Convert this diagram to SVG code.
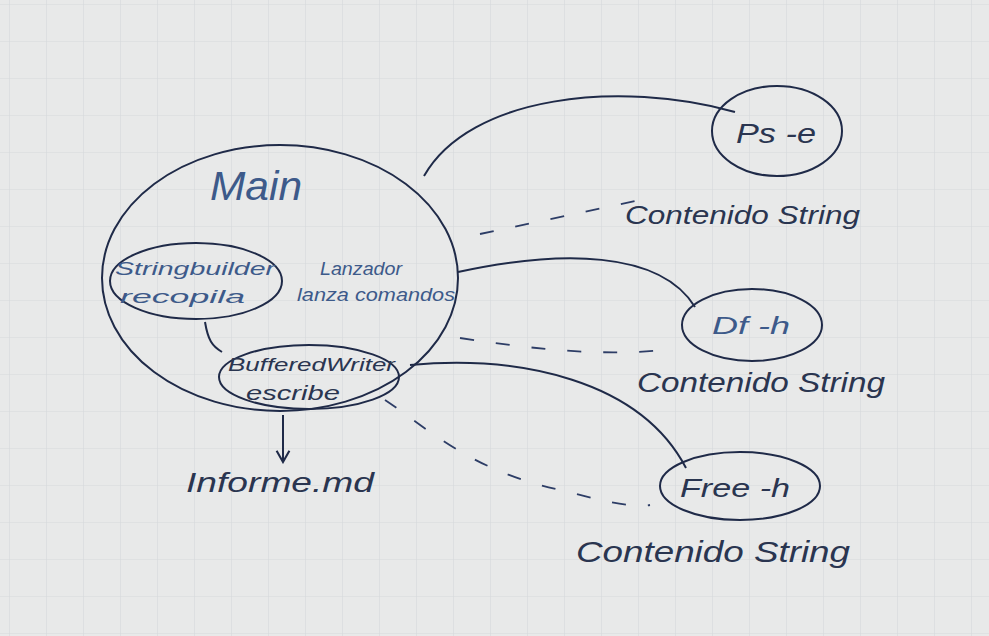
<svg xmlns="http://www.w3.org/2000/svg" width="989" height="636" viewBox="0 0 989 636">
<defs>
<pattern id="grid" width="37" height="37" patternUnits="userSpaceOnUse" x="10" y="5">
<rect width="37" height="37" fill="#e8e9e9"/>
<path d="M37 0V37M0 37H37" stroke="#d6d9dc" stroke-width="1.2" fill="none"/>
</pattern>
<marker id="arr" viewBox="0 0 10 10" refX="9" refY="5" markerWidth="16" markerHeight="16" orient="auto" markerUnits="userSpaceOnUse">
<path d="M2 1 L9 5 L2 9" fill="none" stroke="#1f2a48" stroke-width="1.3"/>
</marker>
</defs>
<style>
.ink{fill:none;stroke:#1f2a48;stroke-width:2}
.dash{fill:none;stroke:#2d3d66;stroke-width:1.8;stroke-dasharray:14 22}
.t{font-family:"Liberation Sans","DejaVu Sans",sans-serif;fill:#2a3550;font-style:italic}
.tl{font-family:"Liberation Sans","DejaVu Sans",sans-serif;fill:#3d5a8a;font-style:italic}
</style>
<rect width="989" height="636" fill="url(#grid)"/>

<g id="main">
<ellipse class="ink" cx="280" cy="278" rx="178" ry="133"/>
<text class="tl" x="210" y="200" font-size="40" textLength="92" lengthAdjust="spacingAndGlyphs">Main</text>
<text class="tl" x="320" y="275" font-size="19" textLength="82" lengthAdjust="spacingAndGlyphs">Lanzador</text>
<text class="tl" x="297" y="301" font-size="19" textLength="158" lengthAdjust="spacingAndGlyphs">lanza comandos</text>
</g>

<g id="stringbuilder">
<ellipse class="ink" cx="196" cy="281" rx="86" ry="38"/>
<text class="tl" x="115" y="275" font-size="19" textLength="160" lengthAdjust="spacingAndGlyphs">Stringbuilder</text>
<text class="tl" x="120" y="303" font-size="19" textLength="125" lengthAdjust="spacingAndGlyphs">recopila</text>
</g>

<g id="bufferedwriter">
<ellipse class="ink" cx="309" cy="377" rx="90" ry="32"/>
<text class="t" x="228" y="371" font-size="18" textLength="167" lengthAdjust="spacingAndGlyphs">BufferedWriter</text>
<text class="t" x="246" y="400" font-size="21" textLength="94" lengthAdjust="spacingAndGlyphs">escribe</text>
</g>

<g id="informe">
<text class="t" x="186" y="492" font-size="27" textLength="188" lengthAdjust="spacingAndGlyphs">Informe.md</text>
</g>

<g id="ps">
<ellipse class="ink" cx="777" cy="131" rx="65" ry="45"/>
<text class="t" x="736" y="143" font-size="28" textLength="80" lengthAdjust="spacingAndGlyphs">Ps -e</text>
</g>

<g id="df">
<ellipse class="ink" cx="752" cy="325" rx="70" ry="36"/>
<text class="tl" x="712" y="334" font-size="23" textLength="78" lengthAdjust="spacingAndGlyphs">Df -h</text>
</g>

<g id="free">
<ellipse class="ink" cx="740" cy="486" rx="80" ry="34"/>
<text class="t" x="680" y="497" font-size="25" textLength="110" lengthAdjust="spacingAndGlyphs">Free -h</text>
</g>

<g id="labels">
<text class="t" x="625" y="224" font-size="26" textLength="235" lengthAdjust="spacingAndGlyphs">Contenido String</text>
<text class="t" x="637" y="392" font-size="27" textLength="248" lengthAdjust="spacingAndGlyphs">Contenido String</text>
<text class="t" x="576" y="562" font-size="29" textLength="274" lengthAdjust="spacingAndGlyphs">Contenido String</text>
</g>

<g id="connectors">
<path class="ink" d="M424 176 C 470 95, 620 80, 735 112"/>
<path class="ink" d="M458 272 C 560 250, 660 250, 695 307"/>
<path class="ink" d="M410 365 C 520 355, 640 380, 686 468"/>
<path class="ink" d="M205 322 C 208 340, 212 346, 222 352"/>
<path class="ink" d="M283 415 L 283 462" marker-end="url(#arr)"/>
<path class="dash" d="M480 234 L 640 200"/>
<path class="dash" d="M460 338 C 540 350, 600 356, 665 350"/>
<path class="dash" d="M385 400 C 430 430, 470 470, 560 490 C 600 500, 630 508, 650 505"/>
</g>
</svg>
